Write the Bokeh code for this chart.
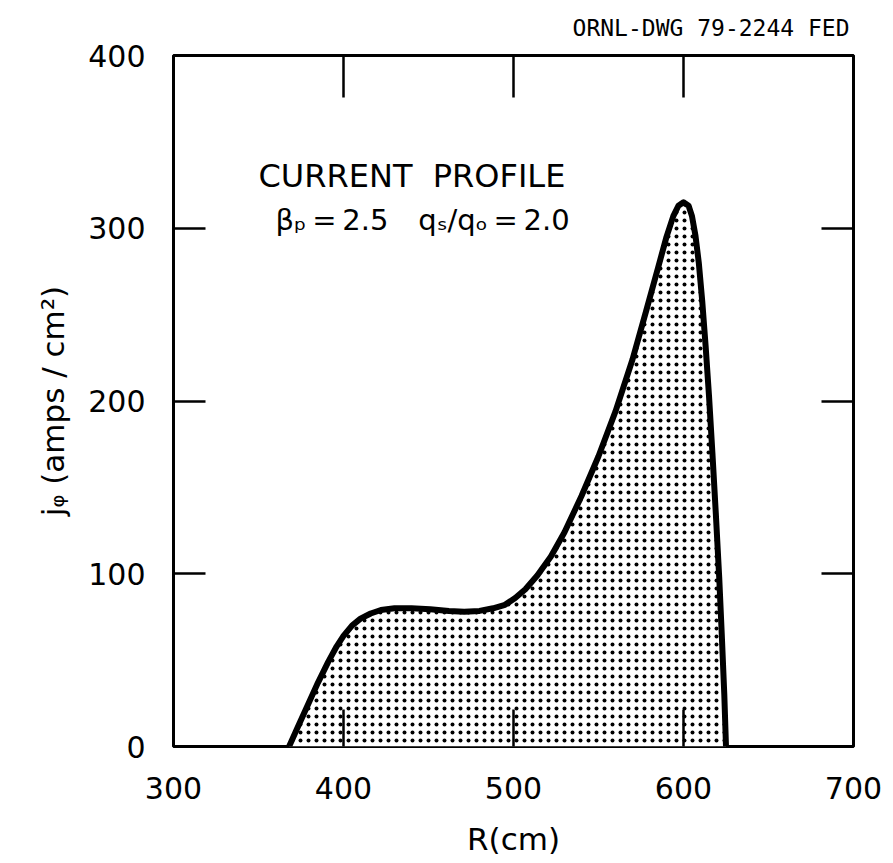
from bokeh.plotting import figure
from bokeh.models import LinearAxis, Range1d, Label, FixedTicker
from bokeh.embed import file_html
from bokeh.resources import INLINE

# ---- data ----
R_cm = [368, 373, 379, 385, 391, 396, 400, 405, 410, 416, 422, 430, 440, 451,
        462, 471, 480, 488, 495, 501, 507, 514, 522, 530, 540, 550, 560, 570,
        578, 585, 590, 594, 597, 600, 603, 605, 607, 609, 611, 613, 615, 617,
        619, 621, 622.5, 624, 625]
j_phi = [0, 11, 24, 37, 49, 58, 64, 70, 74, 77, 79, 80, 80, 79.5,
         78.5, 78, 78.5, 80, 82, 86, 91, 99, 110, 124, 145, 168, 194, 224,
         252, 277, 295, 307, 313, 315, 313, 307, 296, 280, 258, 232, 203, 170,
         135, 98, 65, 30, 0]

x_ticks = [300, 400, 500, 600, 700]
y_ticks = [0, 100, 200, 300, 400]

title_text = "ORNL-DWG 79-2244 FED"
note_line1 = "CURRENT\u00a0\u00a0PROFILE"
note_beta = "\u03b2\u209a\u2009=\u20092.5"
note_q = "q\u209b/q\u2092\u2009=\u20092.0"
x_label = "R(cm)"
y_label = "j\u1d69 (amps / cm\u00b2)"

FONT = "DejaVu Sans"

p = figure(width=893, height=863, x_range=Range1d(300, 700), y_range=Range1d(0, 400),
           output_backend="svg", toolbar_location=None,
           x_axis_location=None, y_axis_location=None,
           min_border_left=173, min_border_right=40, min_border_top=55, min_border_bottom=117)
p.grid.visible = False
p.outline_line_color = "black"
p.outline_line_width = 3
p.background_fill_color = "white"
p.border_fill_color = "white"

p.title.text = title_text
p.title.align = "right"
p.title.vertical_align = "top"
p.title.text_font = "DejaVu Sans Mono"
p.title.text_font_size = "23px"
p.title.text_font_style = "normal"
p.title.text_color = "black"
p.title.offset = 4
p.title.standoff = 26


def make_axis(ticks, label=None, show_labels=True, tick_in=35):
    ax = LinearAxis(ticker=FixedTicker(ticks=ticks))
    ax.axis_line_color = None
    ax.major_tick_in = tick_in
    ax.major_tick_out = 0
    ax.major_tick_line_width = 2.5
    ax.major_tick_line_color = "black"
    ax.minor_tick_line_color = None
    ax.major_label_text_font = FONT
    ax.major_label_text_font_size = "30px"
    ax.major_label_text_color = "black"
    if not show_labels:
        ax.major_label_text_alpha = 0
        ax.major_label_text_font_size = "1px"
        ax.major_label_standoff = 0
    if label:
        ax.axis_label = label
        ax.axis_label_text_font = FONT
        ax.axis_label_text_font_size = "31px"
        ax.axis_label_text_font_style = "normal"
        ax.axis_label_text_color = "black"
    return ax


left = make_axis(y_ticks, y_label, tick_in=32)
left.major_label_standoff = 28
left.axis_label_standoff = 14
p.add_layout(left, "left")

bottom = make_axis(x_ticks, x_label, tick_in=37)
bottom.major_label_standoff = 30
bottom.axis_label_standoff = 19
p.add_layout(bottom, "below")

right = make_axis(y_ticks, show_labels=False, tick_in=32)
p.add_layout(right, "right")

top = make_axis(x_ticks, show_labels=False, tick_in=42)
p.add_layout(top, "above")

# stippled area under the profile
p.patch(R_cm, j_phi, fill_color="white", line_color=None,
        hatch_pattern="dot", hatch_color="black", hatch_scale=8, hatch_weight=2.6)
p.line(R_cm, j_phi, line_color="black", line_width=6, line_join="round", line_cap="round")

p.add_layout(Label(x=350, y=330, text=note_line1, text_align="left", text_baseline="middle",
                   text_font=FONT, text_font_size="32px", text_color="black"))
p.add_layout(Label(x=360, y=305, text=note_beta, text_align="left", text_baseline="middle",
                   text_font=FONT, text_font_size="29px", text_color="black"))
p.add_layout(Label(x=444, y=305, text=note_q, text_align="left", text_baseline="middle",
                   text_font=FONT, text_font_size="29px", text_color="black"))

open("out.html", "w").write(file_html(p, INLINE))
